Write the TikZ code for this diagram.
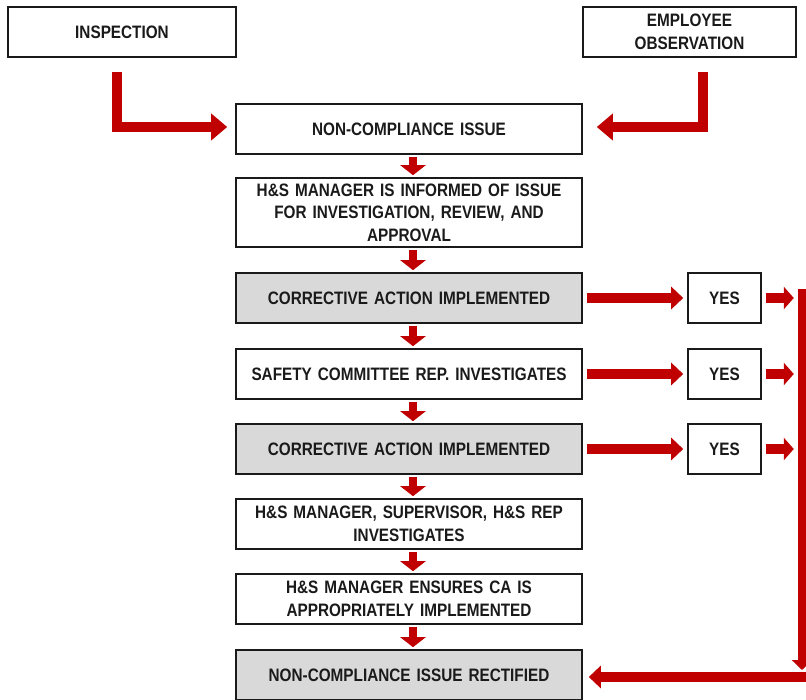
\documentclass[tikz,border=0pt]{standalone}
\usepackage{fontspec}
\newfontfamily\boxfont{Liberation Sans}[FakeStretch=0.85]
\usetikzlibrary{arrows.meta}
\definecolor{flowred}{HTML}{C00000}
\definecolor{boxgray}{HTML}{D9D9D9}
\definecolor{ink}{HTML}{1A1A1A}
\tikzset{
  box/.style={draw=ink, line width=1.6pt, fill=white, inner sep=2pt,
    minimum height=50pt, align=center, text=ink,
    font=\boxfont\bfseries\fontsize{18}{22.5}\selectfont},
  mainbox/.style={box, minimum width=346pt, text width=330pt},
  shaded/.style={fill=boxgray},
  yesbox/.style={box, minimum width=73pt},
  downarr/.style={draw=flowred, line width=8pt,
    -{Triangle[width=25pt,length=10pt]}},
  sidearr/.style={draw=flowred, line width=10.5pt,
    -{Triangle[width=22pt,length=12pt]}},
  elbowarr/.style={draw=flowred, line width=10pt, line join=miter,
    -{Triangle[width=26pt,length=16pt]}}
}
\begin{document}
\begin{tikzpicture}[x=1pt, y=-1pt]
  \useasboundingbox (0,0) rectangle (806,700);

  % sources
  \node[box, minimum width=228pt] (insp) at (122,32) {INSPECTION};
  \node[box, minimum width=213pt] (emp) at (689.5,32) {EMPLOYEE\\OBSERVATION};

  % main column
  \node[mainbox] (nci) at (409,129) {NON-COMPLIANCE ISSUE};
  \node[mainbox, minimum height=69pt] (inf) at (409,212.5)
    {H\&S MANAGER IS INFORMED OF ISSUE\\FOR INVESTIGATION, REVIEW, AND\\APPROVAL};
  \node[mainbox, shaded] (ca1) at (409,298) {CORRECTIVE ACTION IMPLEMENTED};
  \node[mainbox] (scr) at (409,374) {SAFETY COMMITTEE REP. INVESTIGATES};
  \node[mainbox, shaded] (ca2) at (409,449) {CORRECTIVE ACTION IMPLEMENTED};
  \node[mainbox] (mgr) at (409,524) {H\&S MANAGER, SUPERVISOR, H\&S REP\\INVESTIGATES};
  \node[mainbox] (ens) at (409,599) {H\&S MANAGER ENSURES CA IS\\APPROPRIATELY IMPLEMENTED};
  \node[mainbox, shaded] (fin) at (409,675) {NON-COMPLIANCE ISSUE RECTIFIED};

  % yes branches
  \node[yesbox] (y1) at (724.5,298) {YES};
  \node[yesbox] (y2) at (724.5,374) {YES};
  \node[yesbox] (y3) at (724.5,449) {YES};

  % elbow arrows into the first issue box
  \draw[elbowarr] ([xshift=-5pt,yshift=-14pt]insp.south) |- ([xshift=-8pt,yshift=2pt]nci.west);
  \draw[elbowarr] ([xshift=13.5pt,yshift=-14pt]emp.south) |- ([xshift=14pt,yshift=2pt]nci.east);

  % downward steps
  \foreach \a/\b in {nci/inf, inf/ca1, ca1/scr, scr/ca2, ca2/mgr, mgr/ens, ens/fin}
    \draw[downarr] ([xshift=4pt,yshift=-2pt]\a.south) -- ([xshift=4pt,yshift=2pt]\b.north);

  % branches to YES and on to the return bar
  \foreach \a/\b in {ca1/y1, scr/y2, ca2/y3} {
    \draw[sidearr] ([xshift=4pt]\a.east) -- ([xshift=-4pt]\b.west);
    \draw[sidearr, -{Triangle[width=22pt,length=10pt]}] ([xshift=4pt]\b.east) -- ++(28,0);
  }

  % return bar down the right edge and back to the final box
  \coordinate (bartop) at (802,289);
  \coordinate (barbot) at (802,670);
  \coordinate (retstart) at (806,677);
  \draw[sidearr, line width=9pt, -{Triangle[width=20pt,length=10pt]}] (bartop) -- (barbot);
  \draw[sidearr] (retstart) -- ([xshift=6pt,yshift=-2pt]fin.east);
\end{tikzpicture}
\end{document}
